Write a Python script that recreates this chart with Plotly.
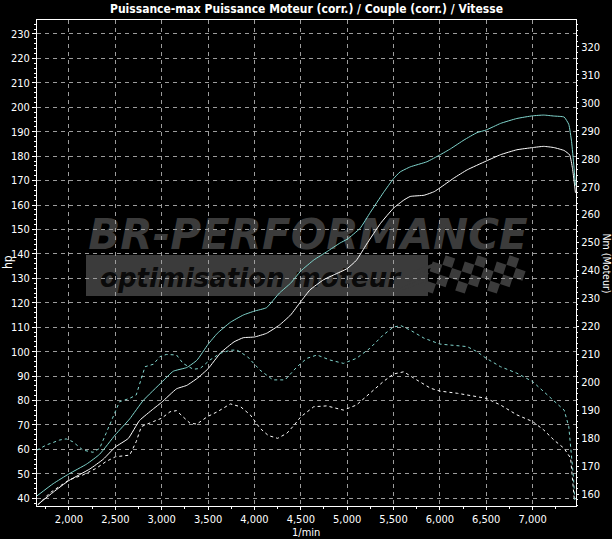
import plotly.graph_objects as go

# ---------------- data ----------------
rpm_pmax = [1655, 1830, 2000, 2190, 2330, 2500, 2655, 2800, 3000, 3125, 3270, 3380, 3500, 3600,
            3740, 3880, 4000, 4130, 4270, 4390, 4500, 4640, 4785, 4925, 5000, 5140, 5250, 5390,
            5500, 5570, 5680, 5860, 6000, 6115, 6260, 6400, 6500, 6655, 6830, 7000, 7120, 7230,
            7340, 7390, 7420, 7445, 7462]
hp_pmax = [41, 46, 50, 54, 58, 66, 72.5, 80, 87.5, 92, 93.5, 96.5, 103, 107.5,
           112, 115, 116.6, 118, 124, 128, 133, 137.5, 141, 144.5, 146, 150.5, 157, 165,
           170.8, 173.5, 175.6, 177.7, 180.5, 183, 186.6, 189.6, 190.7, 193.4, 195.4, 196.5, 196.8, 196.4,
           196, 193, 186, 176, 168]

rpm_pmot = [1665, 1830, 2000, 2225, 2370, 2500, 2640, 2760, 2910, 3000, 3160, 3270, 3380, 3500,
            3635, 3780, 3880, 4000, 4130, 4270, 4390, 4500, 4600, 4745, 4855, 5000, 5100, 5210,
            5360, 5500, 5610, 5680, 5830, 5940, 6000, 6150, 6295, 6500, 6655, 6830, 7000, 7120,
            7230, 7340, 7400, 7430, 7450, 7462]
hp_pmot = [37.5, 42.5, 47.3, 52, 56, 61, 64.5, 71.8, 76.6, 79.3, 84.8, 86.2, 89, 93,
           99.5, 104, 105.7, 106, 107.5, 110.9, 115, 120.5, 125.3, 129.4, 131.4, 134, 137.4, 144,
           152.5, 158.7, 162, 163.5, 164, 165.5, 167, 171, 174.4, 178, 180.6, 182.6, 183.5, 184,
           183.5, 182.3, 180.5, 175, 169, 165]

rpm_tmax = [1655, 1755, 1900, 1970, 2040, 2150, 2260, 2330, 2400, 2475, 2545, 2655, 2725, 2820,
            2910, 2980, 3050, 3160, 3230, 3340, 3415, 3520, 3630, 3740, 3810, 3925, 4060, 4200,
            4330, 4460, 4565, 4675, 4815, 4960, 5100, 5245, 5390, 5500, 5580, 5680, 5830, 6000,
            6115, 6295, 6400, 6500, 6655, 6830, 7000, 7120, 7230, 7340, 7390, 7415, 7440, 7455]
nm_tmax = [175.8, 177.6, 179.4, 179.8, 178.8, 175.8, 175, 176.4, 181.8, 187.7, 193.1, 194.3, 195.5, 205.6,
           206.5, 209.2, 210, 209.8, 206.8, 204.7, 205, 208, 210.4, 211.5, 211.6, 209.2, 204.4, 200.9,
           200.9, 205.6, 208.6, 209.8, 208, 206.8, 208.6, 212.2, 217, 219.8, 220.3, 218.7, 215.8, 213.7,
           213.4, 212.8, 211, 208.6, 205.6, 203.3, 200.3, 196.7, 193.7, 190.1, 184.2, 175.8, 166.3, 158]

rpm_tmot = [1665, 1790, 2000, 2150, 2295, 2400, 2500, 2655, 2725, 2780, 2910, 3000, 3090, 3160,
            3230, 3305, 3380, 3490, 3600, 3740, 3850, 3955, 4060, 4150, 4250, 4350, 4430, 4500,
            4640, 4780, 4960, 5100, 5245, 5390, 5500, 5610, 5750, 5900, 6000, 6190, 6400, 6500,
            6655, 6830, 7000, 7120, 7230, 7340, 7410, 7430, 7450]
nm_tmot = [156.2, 160.4, 165.1, 166.9, 169.3, 171.7, 173.4, 174, 178.8, 184.2, 186, 187.2, 189.5, 189.9,
           187.7, 185.4, 185.1, 187.7, 189.5, 192.3, 191.3, 188.4, 183.6, 181, 180, 181.8, 184.8, 187.7,
           191.3, 191.6, 190.1, 191.9, 196.1, 200.3, 203, 203.8, 200.9, 197.9, 196.9, 196.1, 194.9, 194.3,
           191.9, 188.4, 186, 183, 179.4, 176.4, 172.9, 166.3, 158]

x_ticks = [2000, 2500, 3000, 3500, 4000, 4500, 5000, 5500, 6000, 6500, 7000]
hp_ticks = list(range(40, 231, 10))
nm_ticks = list(range(160, 321, 10))

TITLE = "Puissance-max Puissance Moteur (corr.) / Couple (corr.) / Vitesse"

# ---------------- style ----------------
W, H = 612, 539
ML, MR, MT, MB = 37, 36, 20, 33
PW, PH = W - ML - MR, H - MT - MB
CYAN = "#80d6ce"
GRID = "#9c9c9c"
NARROW = "DejaVu Sans Condensed, DejaVu Sans, sans-serif"
WM = "#3b3b3b"


def px(xp):
    return (xp - ML) / PW


def py(yp):
    return (H - MB - yp) / PH


fig = go.Figure()
fig.add_trace(go.Scatter(x=rpm_tmot, y=nm_tmot, yaxis="y2", mode="lines",
                         line=dict(color="white", width=1, dash="3px,3px")))
fig.add_trace(go.Scatter(x=rpm_tmax, y=nm_tmax, yaxis="y2", mode="lines",
                         line=dict(color=CYAN, width=1, dash="3px,3px")))
fig.add_trace(go.Scatter(x=rpm_pmot, y=hp_pmot, mode="lines",
                         line=dict(color="white", width=1, shape="spline", smoothing=0.4)))
fig.add_trace(go.Scatter(x=rpm_pmax, y=hp_pmax, mode="lines",
                         line=dict(color=CYAN, width=1, shape="spline", smoothing=0.4)))

shapes = []
# watermark band
shapes.append(dict(type="rect", xref="paper", yref="paper", layer="below",
                   x0=px(86), x1=px(428), y0=py(296), y1=py(255),
                   fillcolor=WM, line=dict(width=0)))
# watermark texts as shape labels (drawn below the grid / traces)
shapes.append(dict(type="rect", xref="paper", yref="paper", layer="below",
                   x0=px(60), x1=px(556), y0=py(252), y1=py(210),
                   fillcolor="rgba(0,0,0,0)", line=dict(width=0),
                   label=dict(text="<b><i>BR-PERFORMANCE</i></b>",
                              font=dict(family="DejaVu Sans, sans-serif", size=42, color=WM),
                              textposition="middle center")))
shapes.append(dict(type="rect", xref="paper", yref="paper", layer="below",
                   x0=px(90), x1=px(410), y0=py(292), y1=py(260),
                   fillcolor="rgba(0,0,0,0)", line=dict(width=0),
                   label=dict(text="<b><i>optimisation moteur</i></b>",
                              font=dict(family="DejaVu Sans, sans-serif", size=26, color="#0a0a0a"),
                              textposition="middle center")))
# checkered flag
ux, uy = 9.6, 3.2
vx, vy = -3.2, 9.6
ox, oy = 420, 236
path = ""
for i in range(-4, 16):
    for j in range(-4, 10):
        if (i + j) % 2:
            continue
        pts = [(ox + i * ux + j * vx, oy + i * uy + j * vy),
               (ox + (i + 1) * ux + j * vx, oy + (i + 1) * uy + j * vy),
               (ox + (i + 1) * ux + (j + 1) * vx, oy + (i + 1) * uy + (j + 1) * vy),
               (ox + i * ux + (j + 1) * vx, oy + i * uy + (j + 1) * vy)]
        cx = sum(p[0] for p in pts) / 4
        cy = sum(p[1] for p in pts) / 4
        left = 437 - (cy - 257) * (29 / 38)
        if 260 <= cy <= 293 and left <= cx <= 522:
            path += "M" + " L".join(f"{px(a):.5f},{py(b):.5f}" for a, b in pts) + " Z "
shapes.append(dict(type="path", xref="paper", yref="paper", layer="below",
                   path=path, fillcolor=WM, line=dict(width=0)))
# speed streaks on the left of the flag
for k, (sx, sy) in enumerate([(412, 272), (405, 280), (400, 288)]):
    shapes.append(dict(type="path", xref="paper", yref="paper", layer="below",
                       path=f"M{px(sx):.5f},{py(sy):.5f} L{px(sx + 22):.5f},{py(sy - 9):.5f} "
                            f"L{px(sx + 24):.5f},{py(sy - 6):.5f} L{px(sx + 3):.5f},{py(sy + 2):.5f} Z",
                       fillcolor=WM, line=dict(width=0)))

tickfont = dict(family=NARROW, size=11, color="white")

fig.update_layout(
    width=W, height=H,
    margin=dict(l=ML, r=MR, t=MT, b=MB, pad=0, autoexpand=False),
    paper_bgcolor="black", plot_bgcolor="black",
    showlegend=False, hovermode=False,
    shapes=shapes,
    title=dict(text="<b>" + TITLE + "</b>", x=0.5, xanchor="center", y=1 - 9 / H, yanchor="middle",
               xref="paper", font=dict(family=NARROW, size=12, color="white")),
    xaxis=dict(range=[1655, 7468], tickvals=x_ticks, tickformat=",d", tickfont=tickfont,
               showgrid=True, gridcolor=GRID, griddash="4px,4px", gridwidth=1, automargin=False,
               zeroline=False, showline=True, linecolor="white", linewidth=1, mirror=True,
               ticks="outside", ticklen=3, tickcolor="white",
               minor=dict(ticks="outside", ticklen=2, dtick=250, tickcolor="white", showgrid=False)),
    yaxis=dict(range=[36.85, 235.7], tickvals=hp_ticks, tickfont=tickfont, automargin=False,
               showgrid=True, gridcolor=GRID, griddash="4px,4px", gridwidth=1,
               zeroline=False, showline=True, linecolor="white", linewidth=1, mirror=True,
               ticks="outside", ticklen=4, tickcolor="white",
               minor=dict(ticks="outside", ticklen=2, dtick=2, tickcolor="white", showgrid=False)),
    yaxis2=dict(range=[155.8, 329.6], tickvals=nm_ticks, tickfont=tickfont, overlaying="y", side="right",
                showgrid=False, zeroline=False, showline=True, linecolor="white", linewidth=1,
                automargin=False, ticks="outside", ticklen=2, tickcolor="white",
                minor=dict(ticks="outside", ticklen=1, dtick=2, tickcolor="white")),
    annotations=[
        dict(text="hp", xref="paper", yref="paper", x=px(8), y=py(262), showarrow=False,
             textangle=-90, font=dict(family=NARROW, size=12, color="white"),
             xanchor="center", yanchor="middle"),
        dict(text="Nm (Moteur)", xref="paper", yref="paper", x=px(606.5), y=py(263), showarrow=False,
             textangle=90, font=dict(family=NARROW, size=10.5, color="white"),
             xanchor="center", yanchor="middle"),
        dict(text="1/min", xref="paper", yref="paper", x=px(306), y=py(532), showarrow=False,
             font=dict(family=NARROW, size=11, color="white"),
             xanchor="center", yanchor="middle"),
    ],
)

fig.write_html("out.html", config={"displayModeBar": False},
               post_script="document.body.style.margin='0px';")
